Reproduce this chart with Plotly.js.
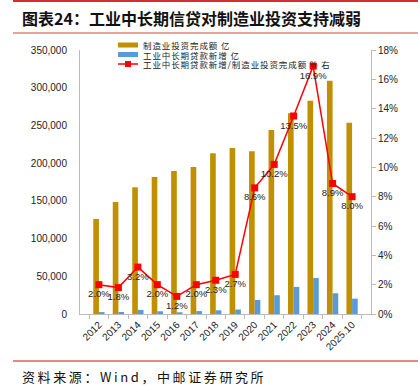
<!DOCTYPE html>
<html>
<head>
<meta charset="utf-8">
<script src="https://cdn.plot.ly/plotly-3.0.1.min.js"></script>
<style>
html,body{margin:0;padding:0;background:#fff;}
#chart{width:418px;height:386px;}
</style>
</head>
<body>
<div id="chart"></div>
<script>
const categories = ["2012","2013","2014","2015","2016","2017","2018","2019","2020","2021","2022","2023","2024","2025.10"];
const mfgInvest = [126000,148500,168000,181600,189600,195000,213000,220000,215700,244000,266000,282800,309300,253600];
const loanNew = [2520,2670,5380,3630,2275,3900,4900,5940,18550,24900,35900,47800,27500,20300];
const ratio = [2.0,1.8,3.2,2.0,1.2,2.0,2.3,2.7,8.6,10.2,13.5,16.9,8.9,8.0];

const seriesNames = ["制造业投资完成额 亿","工业中长期贷款新增 亿","工业中长期贷款新增/制造业投资完成额 % 右"];
const seriesColors = ['#C09000','#5B9BD5','#FF0000'];
const titleText = "图表24：工业中长期信贷对制造业投资支持减弱";
const sourceText = "资料来源：Wind，中邮证券研究所";

const cjk = '"Noto Sans CJK SC", "Noto Sans", sans-serif';
const num = '"Liberation Sans", Arial, sans-serif';

const traces = [
  {type:'bar', x:categories, y:mfgInvest, name:seriesNames[0], marker:{color:seriesColors[0]}, yaxis:'y'},
  {type:'bar', x:categories, y:loanNew, name:seriesNames[1], marker:{color:seriesColors[1]}, yaxis:'y'},
  {type:'scatter', mode:'lines+markers+text', x:categories, y:ratio, name:seriesNames[2], yaxis:'y2',
   line:{color:seriesColors[2], width:1.5}, marker:{color:seriesColors[2], symbol:'square', size:7},
   text: ratio.map(v=>v.toFixed(1)+'%'), textposition:'bottom center',
   textfont:{family:num, size:9.5, color:'#222'}}
];

// pixel -> paper helpers (plot area: x 80..371, y 50..314)
const PL=80, PW=291, PT=50, PH=264, H=386;
const px = x => (x-PL)/PW;
const py = y => (PT+PH-y)/PH;

// manual legend (wide bar swatches like the reference)
const legRows = [45, 54.5, 64];
const legShapes = [
  {type:'rect', xref:'paper', yref:'paper', x0:px(118), x1:px(138), y0:py(legRows[0]+2.5), y1:py(legRows[0]-2.5), fillcolor:seriesColors[0], line:{width:0}},
  {type:'rect', xref:'paper', yref:'paper', x0:px(118), x1:px(138), y0:py(legRows[1]+2.5), y1:py(legRows[1]-2.5), fillcolor:seriesColors[1], line:{width:0}},
  {type:'line', xref:'paper', yref:'paper', x0:px(118), x1:px(138), y0:py(legRows[2]), y1:py(legRows[2]), line:{color:seriesColors[2], width:1.5}},
  {type:'rect', xref:'paper', yref:'paper', x0:px(125), x1:px(131), y0:py(legRows[2]+3), y1:py(legRows[2]-3), fillcolor:seriesColors[2], line:{width:0}}
];
const legAnn = seriesNames.map((n,i)=>({text:'<span style="letter-spacing:0.9px">'+n+'</span>', xref:'paper', yref:'paper', x:px(141), y:py(legRows[i]),
  xanchor:'left', yanchor:'middle', showarrow:false, font:{family:cjk, size:8.5, color:'#222'}}));

const layout = {
  width:418, height:386,
  margin:{l:PL, r:418-PL-PW, t:PT, b:H-PT-PH},
  paper_bgcolor:'#fff', plot_bgcolor:'#fff',
  barmode:'group', bargap:0.42, bargroupgap:0,
  showlegend:false,
  xaxis:{type:'category', tickangle:-45, tickfont:{family:num, size:10, color:'#222'},
         showline:true, linecolor:'#bbb', linewidth:1, ticks:'outside', tickson:'boundaries',
         ticklen:4, tickcolor:'#bbb', showgrid:false, zeroline:false},
  yaxis:{range:[0,350000], dtick:50000, tickformat:',',
         tickfont:{family:num, size:10, color:'#222'}, showline:true, linecolor:'#bbb',
         showgrid:false, zeroline:false, ticks:'', ticklabelstandoff:10},
  yaxis2:{range:[0,18], dtick:2, ticksuffix:'%', overlaying:'y', side:'right',
          tickfont:{family:num, size:10, color:'#222'}, showline:true, linecolor:'#bbb',
          ticks:'outside', ticklen:4, tickcolor:'#bbb', showgrid:false, zeroline:false},
  separators:'.,',
  shapes:[
    {type:'line', xref:'paper', yref:'paper', x0:px(13), x1:px(418), y0:py(1), y1:py(1), line:{color:'#D32F2F', width:2}},
    {type:'line', xref:'paper', yref:'paper', x0:px(13), x1:px(418), y0:py(33), y1:py(33), line:{color:'#E88080', width:1.5}},
    {type:'line', xref:'paper', yref:'paper', x0:px(13), x1:px(418), y0:py(361), y1:py(361), line:{color:'#E06060', width:1.5}}
  ].concat(legShapes),
  annotations:[
    {text:'<b>'+titleText+'</b>', xref:'paper', yref:'paper', x:px(20), y:py(18),
     xanchor:'left', yanchor:'middle', showarrow:false, font:{family:cjk, size:16, color:'#111'}},
    {text:'<span style="letter-spacing:2.6px">'+sourceText+'</span>', xref:'paper', yref:'paper', x:px(20), y:py(376),
     xanchor:'left', yanchor:'middle', showarrow:false, font:{family:cjk, size:13, color:'#111'}}
  ].concat(legAnn)
};

Plotly.newPlot('chart', traces, layout, {displayModeBar:false, staticPlot:true});
</script>
</body>
</html>
